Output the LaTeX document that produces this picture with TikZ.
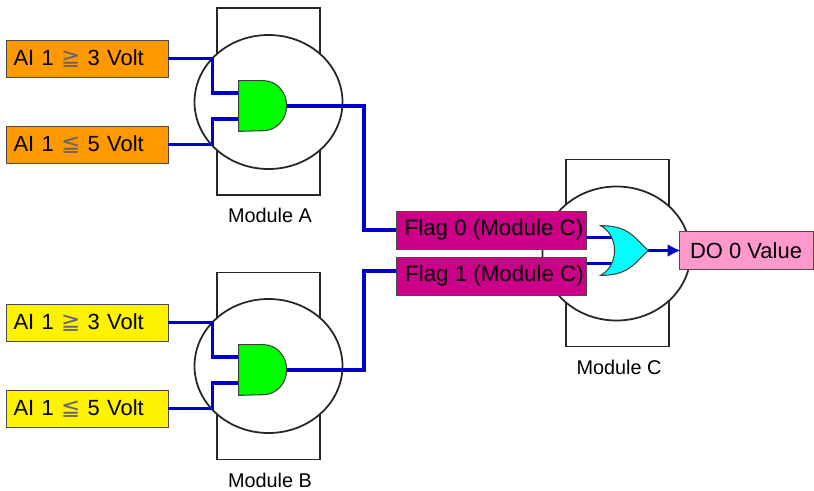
\documentclass[tikz,border=0pt]{standalone}
\usepackage{fontspec}
\setmainfont{Liberation Sans}
\newfontfamily\symfont{DejaVu Sans}
\usepackage{xcolor}
\usetikzlibrary{arrows.meta, shapes.geometric}
\definecolor{wireblue}{HTML}{0000CC}
\definecolor{orangebox}{HTML}{FF9900}
\definecolor{flagbox}{HTML}{CC0088}
\definecolor{pinkbox}{HTML}{FF99CC}
\definecolor{orfill}{HTML}{00FFFF}
\newcommand{\geqsym}{{\symfont\fontsize{13}{16}\selectfont\color{black!60}≧}}
\newcommand{\leqsym}{{\symfont\fontsize{13}{16}\selectfont\color{black!60}≦}}
\begin{document}
\begin{tikzpicture}[font=\fontsize{12.5}{16}\selectfont,
    inbox/.style={draw=black!70,text width=2.94cm,inner xsep=0.15cm,minimum height=0.74cm,align=left,inner ysep=0pt},
    flagnode/.style={draw=black!70,fill=flagbox,font=\fontsize{12.7}{16}\selectfont,minimum width=3.8cm,minimum height=0.76cm,inner sep=0pt,
      execute at begin node={\hspace*{0.12cm}}},
    modrect/.style={draw=black!85,line width=1pt,minimum width=2.06cm,minimum height=3.74cm},
    modbody/.style={draw=black!85,line width=1pt,fill=white,ellipse,minimum width=2.96cm,minimum height=2.68cm,inner sep=0pt},
    modlabel/.style={font=\fontsize{11.3}{14}\selectfont},
    andnode/.style={minimum width=0.96cm,minimum height=1.0cm,inner sep=0pt},
    ornode/.style={minimum width=0.94cm,minimum height=0.98cm,inner sep=0pt},
    gatebody/.style={draw=black!75,line width=0.6pt},
    wire/.style={draw=wireblue,line width=2pt},
    arr/.style={wire,-{Latex[length=2.6mm,width=2.6mm]},shorten >=-0.04cm}]
    \useasboundingbox (0,0) rectangle (16.28,9.8);
    \node[modrect] (rectA) at (5.37,7.77) {};
    \node[modbody] (bodyA) at (5.37,7.76) {};
    \node[modrect] (rectB) at (5.37,2.48) {};
    \node[modbody] (bodyB) at (5.37,2.48) {};
    \node[modrect] (rectC) at (12.35,4.74) {};
    \node[modbody] (bodyC) at (12.33,4.73) {};
    \node[modlabel] (labA) at (5.4,5.5) {Module A};
    \node[modlabel] (labB) at (5.4,0.2) {Module B};
    \node[modlabel] (labC) at (12.38,2.46) {Module C};
    \node[inbox,fill=orangebox] (a1) at (1.74,8.63) {AI 1 \geqsym{} 3 Volt};
    \node[inbox,fill=orangebox] (a2) at (1.74,6.91) {AI 1 \leqsym{} 5 Volt};
    \node[inbox,fill=yellow]    (b1) at (1.74,3.35) {AI 1 \geqsym{} 3 Volt};
    \node[inbox,fill=yellow]    (b2) at (1.74,1.63) {AI 1 \leqsym{} 5 Volt};
    \node[andnode] (andA) at (5.26,7.68) {};
    \node[andnode] (andB) at (5.26,2.4) {};
    \node[ornode]  (orC)  at (12.49,4.79) {};
    \node[flagnode] (flag0) at (9.82,5.2)  {Flag 0 (Module C)};
    \node[flagnode] (flag1) at (9.83,4.28) {Flag 1 (Module C)};
    \node[draw=black!70,fill=pinkbox,minimum width=2.68cm,minimum height=0.76cm,inner sep=0pt] (do0) at (14.92,4.79) {DO 0 Value};
    \coordinate (ja1) at (4.25,8.63);
    \coordinate (ja2) at (4.25,6.91);
    \coordinate (jb1) at (4.25,3.35);
    \coordinate (jb2) at (4.25,1.63);
    \coordinate (busA) at (7.28,6);
    \coordinate (busB) at (7.28,3.5);
    \draw[wire](a1.east)--(ja1)|-([yshift=0.26cm]andA.west);
    \draw[wire](a2.east)--(ja2)|-([yshift=-0.26cm]andA.west);
    \draw[wire](b1.east)--(jb1)|-([yshift=0.26cm]andB.west);
    \draw[wire](b2.east)--(jb2)|-([yshift=-0.26cm]andB.west);
    \draw[wire](andA.east)-|(busA)|-(flag0.west);
    \draw[wire](andB.east)-|(busB)|-([yshift=0.1cm]flag1.west);
    \draw[wire]([yshift=0.26cm]orC.west -| flag0.east)--([shift={(0.25,0.26)}]orC.west);
    \draw[wire]([yshift=-0.26cm]orC.west -| flag1.east)--([shift={(0.25,-0.26)}]orC.west);
    \draw[arr](orC.east)--(do0.west);
    \draw[gatebody,fill=green](andA.north west)--++(0.5,0) arc (90:-90:0.46 and 0.5)--(andA.south west)--cycle;
    \draw[gatebody,fill=green](andB.north west)--++(0.5,0) arc (90:-90:0.46 and 0.5)--(andB.south west)--cycle;
    \draw[gatebody,fill=orfill](orC.north west) .. controls +(0.55,0) and +(-0.3,0.28) .. (orC.east)
      .. controls +(-0.3,-0.28) and +(0.55,0) .. (orC.south west)
      .. controls +(0.37,0.2) and +(0.37,-0.2) .. (orC.north west)--cycle;
  \end{tikzpicture}
\end{document}
